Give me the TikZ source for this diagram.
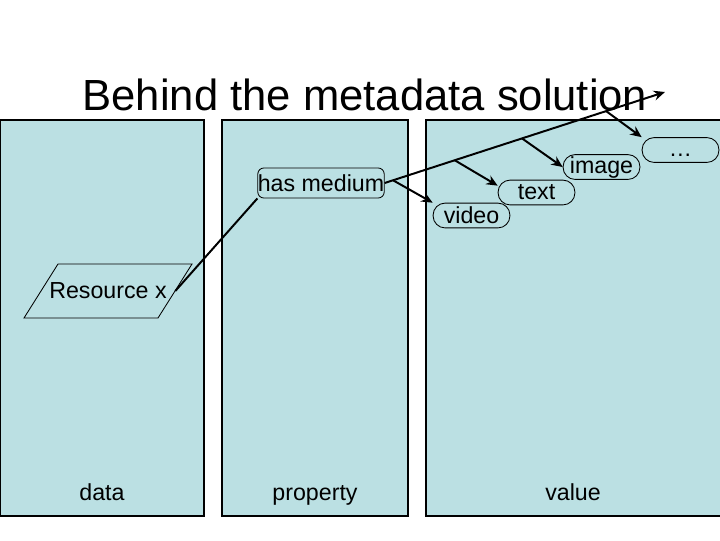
\documentclass[tikz,border=0pt]{standalone}
\usepackage{fontspec}
\setmainfont{Liberation Sans}
\usetikzlibrary{positioning,arrows.meta}
\definecolor{slBlue}{RGB}{187,224,227}

\begin{document}
\begin{tikzpicture}[
    x=0.025cm, y=-0.025cm,
    column/.style={draw=black, fill=slBlue, line width=0.8pt},
    col label/.style={font=\fontsize{16.5}{19}\selectfont, inner sep=0pt, anchor=base},
    prop node/.style={rectangle, rounded corners=1.5mm, draw, line width=0.6pt, inner sep=0pt, minimum width=3.15cm, minimum height=0.75cm, font=\fontsize{16.5}{19}\selectfont},
    value node/.style={rectangle, rounded corners=3mm, draw, line width=0.6pt, inner sep=0pt, minimum width=1.92cm, minimum height=0.62cm, font=\fontsize{16.5}{19}\selectfont},
    res node/.style={inner sep=0pt, minimum width=3.35cm, minimum height=1.35cm, font=\fontsize{16.5}{19}\selectfont},
    res shape/.style={draw, line width=0.6pt},
    link/.style={line width=1.4pt},
    arrow link/.style={line width=1.4pt, -{Stealth[length=8pt, width=7pt]}}
]
  \useasboundingbox (0,0) rectangle (720,540);

  % the three columns
  \draw[column] (0,120) rectangle (204,516);
  \draw[column] (222,120) rectangle (408,516);
  \draw[column] (426,120) rectangle (724,516);

  \node[font=\fontsize{31}{36}\selectfont, inner sep=0pt, anchor=base] (title) at (365,110) {Behind the metadata solution};

  \node[col label] (datalab) at (102,500) {data};
  \node[col label] (proplab) at (315,500) {property};
  \node[col label] (vallab) at (573,500) {value};

  % slanted box of the resource
  \draw[res shape] (24,318) -- (58,264) -- (192,264) -- (158,318) -- cycle;
  \node[res node] (res) at (108,291) {Resource x};
  \node[prop node] (hasmed) at (321,183) {has medium};
  \node[value node] (video) at (471.5,215.5) {video};
  \node[value node] (text) at (536.5,192.5) {text};
  \node[value node] (image) at (601.5,167) {image};
  \node[value node] (dots) at (680.5,150) {\vphantom{image}\dots};
  \coordinate (tip) at (665,92);

  \draw[link] (res.east) -- (hasmed.south west);
  \draw[arrow link] (hasmed.east) -- coordinate[pos=0.03] (b1) coordinate[pos=0.25] (b2)
      coordinate[pos=0.49] (b3) coordinate[pos=0.79] (b4) (tip);
  \draw[arrow link] (b1) -- (video.north west);
  \draw[arrow link] (b2) -- (text.170);
  \draw[arrow link] (b3) -- (image.west);
  \draw[arrow link] (b4) -- (dots.north west);
\end{tikzpicture}
\end{document}
